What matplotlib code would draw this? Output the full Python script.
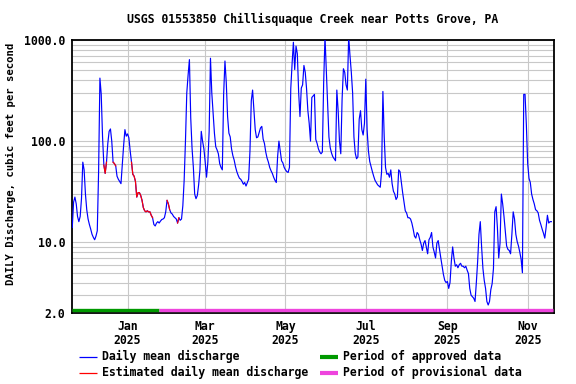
import datetime as dt
import numpy as np
import matplotlib
matplotlib.use("Agg")
import matplotlib.pyplot as plt
import matplotlib.dates as mdates
from matplotlib.lines import Line2D
from matplotlib.ticker import FixedLocator, FixedFormatter, NullFormatter

# ---------------- data ----------------
title = "USGS 01553850 Chillisquaque Creek near Potts Grove, PA"
ylabel = "DAILY Discharge, cubic feet per second"
start_date = "2024-11-20"   # first daily value

discharge = [
    14, 25, 28, 24, 18, 16, 18, 27, 62, 52,
    30, 21, 17, 15, 13.5, 12, 11.2, 10.6, 11.5, 13,
    50, 420, 290, 110, 58, 48, 62, 95, 125, 132,
    100, 62, 60, 57, 45, 42, 40, 38, 58, 90,
    130, 112, 118, 108, 80, 62, 47, 45, 40, 28,
    31, 31, 29, 26, 22, 20.5, 20, 20.5, 20, 20,
    18.5, 17.5, 15, 14.5, 15.5, 16, 15.5, 16.2, 16.8, 17,
    17.5, 20, 26, 24, 21, 19.5, 19, 18, 17.5, 17,
    15.5, 17.5, 16.5, 17, 23, 41, 100, 300, 450, 640,
    170, 85, 55, 30, 27, 29, 37, 52, 125, 100,
    84, 62, 44, 62, 125, 660, 300, 190, 120, 88,
    82, 75, 60, 55, 52, 290, 620, 380, 175, 120,
    110, 84, 72, 65, 56, 50, 46, 43, 42, 40,
    37.5, 39, 36, 39, 42, 80, 250, 320, 200, 130,
    108, 110, 122, 135, 140, 105, 95, 78, 68, 62,
    55, 51, 48, 44, 41, 39, 70, 100, 80, 64,
    61, 55, 52, 50, 49, 55, 330, 580, 950, 510,
    870, 730, 300, 175, 335, 360, 560, 480, 330, 200,
    150, 100, 270, 280, 290, 104, 95, 84, 78, 75,
    78, 380, 1080, 510, 250, 110, 86, 76, 70, 67,
    64, 320, 200, 100, 75, 260, 520, 480, 360, 320,
    1080, 700, 480, 300, 110, 76, 67, 70, 165, 200,
    130, 115, 150, 410, 130, 80, 63, 56, 50, 45,
    41, 39, 37, 36, 35, 50, 310, 110, 55, 47,
    48, 44, 52, 38, 32, 30, 26.5, 28, 52, 50,
    39, 31, 25, 20.5, 19.5, 17.5, 17.5, 17, 15.5, 13.5,
    11.5, 11, 12.5, 12, 10.6, 9.6, 8.3, 9.8, 10.4, 9,
    7.7, 10.6, 11.2, 12.5, 9, 8, 7, 9.8, 10.4, 8.5,
    7, 5.8, 4.8, 4.2, 4, 4.1, 3.5, 4, 6.5, 9,
    7, 5.8, 6, 5.6, 6, 6.2, 5.8, 5.8, 5.6, 5.8,
    5.3, 4.9, 3.5, 3, 2.9, 2.8, 2.6, 4, 6.5, 12,
    16, 9, 5.5, 4.2, 3.5, 2.6, 2.4, 2.6, 3.4, 3.9,
    5.5, 20, 22.5, 14, 7, 9.8, 30, 24, 18, 13,
    9.2, 8.5, 8.3, 7.7, 12, 20, 17, 12, 10.2, 9.2,
    8, 6.8, 5, 290, 290, 145, 60, 43, 39, 30,
    26.5, 24, 21, 20.5, 19.5, 16.5, 15, 13.5, 12.3, 11,
    14, 18.5, 15.5, 16, 16,
]

estimated_ranges = [
    ("2024-12-14", "2024-12-16"),
    ("2024-12-21", "2024-12-23"),
    ("2025-01-04", "2025-01-20"),
    ("2025-01-31", "2025-02-02"),
    ("2025-02-08", "2025-02-09"),
]

approved_end = "2025-01-25"
period_end = "2025-11-20"

x_tick_dates = ["2025-01-01", "2025-03-01", "2025-05-01",
                "2025-07-01", "2025-09-01", "2025-11-01"]
y_major = [2, 10, 100, 1000]
y_major_labels = ["2.0", "10.0", "100.0", "1000.0"]

# ---------------- build ----------------
def d(s):
    return dt.datetime.strptime(s, "%Y-%m-%d")

start = d(start_date)
dates = [start + dt.timedelta(days=i) for i in range(len(discharge))]
vals = np.array(discharge, dtype=float)

est_mask = np.zeros(len(vals), dtype=bool)
for a, b in estimated_ranges:
    da, db = d(a), d(b)
    for i, t in enumerate(dates):
        if da <= t <= db:
            est_mask[i] = True
est_vals = np.where(est_mask, vals, np.nan)

font = {"family": "DejaVu Sans Mono", "weight": "bold", "size": 8.3}
font_yl = {"family": "DejaVu Sans Mono", "weight": "bold", "size": 7.7}
plt.rcParams["font.family"] = "DejaVu Sans Mono"
plt.rcParams["font.weight"] = "bold"

fig = plt.figure(figsize=(5.76, 3.84), dpi=100)
ax = fig.add_axes([72 / 576, 1 - 313 / 384, (554 - 72) / 576, (313 - 40) / 384])

ax.set_yscale("log")
ax.set_ylim(2, 1000)
ax.set_xlim(start - dt.timedelta(hours=5), start + dt.timedelta(days=366))

minor = []
for dec in [1, 10, 100]:
    for m in range(2, 10):
        v = m * dec
        if 2 < v < 1000 and v not in y_major:
            minor.append(v)
ax.yaxis.set_major_locator(FixedLocator(y_major))
ax.yaxis.set_major_formatter(FixedFormatter(y_major_labels))
ax.yaxis.set_minor_locator(FixedLocator(minor))
ax.yaxis.set_minor_formatter(NullFormatter())

ax.xaxis.set_major_locator(FixedLocator([mdates.date2num(d(s)) for s in x_tick_dates]))
ax.xaxis.set_major_formatter(mdates.DateFormatter("%b\n%Y"))

gc = "#c8c8c8"
ax.grid(True, which="major", axis="both", color=gc, lw=0.8)
ax.grid(True, which="minor", axis="y", color=gc, lw=0.8)
ax.set_axisbelow(True)
ax.tick_params(which="both", length=0)
ax.tick_params(axis="y", pad=5)
ax.tick_params(axis="x", pad=5)
for lab in ax.get_xticklabels() + ax.get_yticklabels():
    lab.set_fontproperties(font)
    lab.set_linespacing(1.1)
for sp in ax.spines.values():
    sp.set_linewidth(1.3)
    sp.set_color("black")

ax.plot(dates, vals, color="#0000ff", lw=0.85, zorder=3)
ax.plot(dates, est_vals, color="#ff0000", lw=0.85, zorder=4)

# period bars along the bottom
trans = ax.get_xaxis_transform()
ax.plot([start, d(approved_end)], [0.012, 0.012], transform=trans,
        color="#009900", lw=2.4, solid_capstyle="butt", zorder=5, clip_on=False)
ax.plot([d(approved_end), d(period_end)], [0.012, 0.012], transform=trans,
        color="#ee44dd", lw=2.4, solid_capstyle="butt", zorder=5, clip_on=False)

fig.text(313 / 576, 1 - 19 / 384, title, ha="center", va="center", fontdict=font)
fig.text(11 / 576, 1 - 164 / 384, ylabel, ha="center", va="center",
         rotation=90, fontdict=font_yl)

# legend (manual)
def leg_line(x0, x1, y, color, lw):
    fig.add_artist(Line2D([x0 / 576, x1 / 576], [1 - y / 384, 1 - y / 384],
                          transform=fig.transFigure, color=color, lw=lw,
                          solid_capstyle="butt"))

leg_line(79, 97, 356.5, "#0000ff", 0.9)
leg_line(79, 97, 372.5, "#ff0000", 0.9)
leg_line(320, 338, 356.5, "#009900", 3)
leg_line(320, 338, 372.5, "#ee44dd", 3)
fig.text(102 / 576, 1 - 356.5 / 384, "Daily mean discharge", va="center", fontdict=font)
fig.text(102 / 576, 1 - 372.5 / 384, "Estimated daily mean discharge", va="center", fontdict=font)
fig.text(343 / 576, 1 - 356.5 / 384, "Period of approved data", va="center", fontdict=font)
fig.text(343 / 576, 1 - 372.5 / 384, "Period of provisional data", va="center", fontdict=font)

fig.savefig("out.png", dpi=100)
